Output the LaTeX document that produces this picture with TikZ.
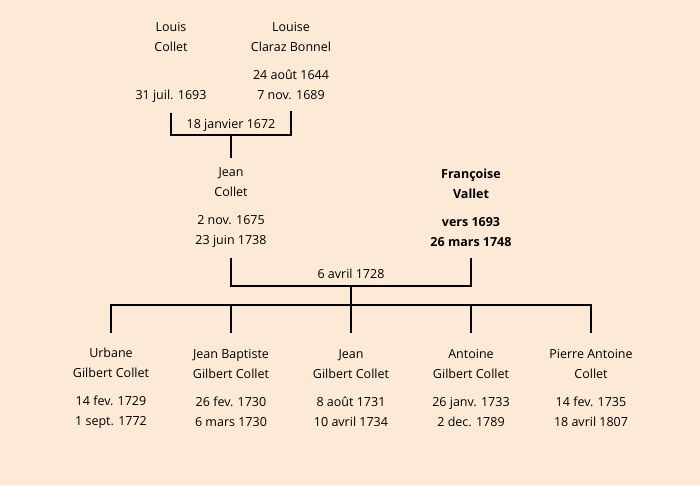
\documentclass[tikz,border=0pt]{standalone}
\usepackage{fontspec}
\setmainfont{Open Sans}
\usetikzlibrary{calc}
\definecolor{fond}{RGB}{252,234,215}

\begin{document}
\begin{tikzpicture}[x=1pt,y=-1pt,
    pers/.style={align=center,font=\fontsize{12.5}{20}\selectfont,minimum height=100pt,inner sep=0pt},
    mariage/.style={font=\fontsize{12.5}{14}\selectfont},
    lien/.style={line width=2pt}]
    \fill[fond](0,0)rectangle(700,485);
    % grands-parents
    \node[pers](louis) at (171,62.5){Louis\\Collet\\[8pt]\strut\\31 juil. 1693};
    \node[pers](louise) at (291,61){Louise\\Claraz Bonnel\\[8pt]24 ao\^ut 1644\\7 nov. 1689};
    \coordinate(m1) at (231,135);
    \node[mariage](d1) at (231,125){18 janvier 1672};
    \draw[lien](louis.south)|-(m1)-|(louise.south);
    % parents
    \node[pers](jean) at (231,208){Jean\\Collet\\[8pt]2 nov. 1675\\23 juin 1738};
    \node[pers,font=\fontsize{12.5}{20}\selectfont\bfseries](francoise) at (471,208){Fran\c{c}oise\\Vallet\\[8pt]vers 1693\\26 mars 1748};
    \draw[lien](m1)--(jean.north);
    \coordinate(m2) at (351,286);
    \node[mariage](d2) at (351,274){6 avril 1728};
    \draw[lien](jean.south)|-(m2)-|(francoise.south);
    % enfants
    \foreach \i/\x/\t in {1/111/{Urbane\\Gilbert Collet\\[8pt]14 fev. 1729\\1 sept. 1772},
        2/231/{Jean Baptiste\\Gilbert Collet\\[8pt]26 fev. 1730\\6 mars 1730},
        3/351/{Jean\\Gilbert Collet\\[8pt]8 ao\^ut 1731\\10 avril 1734},
        4/471/{Antoine\\Gilbert Collet\\[8pt]26 janv. 1733\\2 dec. 1789},
        5/591/{Pierre Antoine\\Collet\\[8pt]14 fev. 1735\\18 avril 1807}}
      \node[pers,minimum height=110pt](e\i) at (\x,388){\t};
    \coordinate(f) at (351,305);
    \draw[lien](m2)--(f);
    \draw[lien](e1.north)|-(f)-|(e5.north);
    \foreach \i in {2,3,4}
      \draw[lien](e\i.north)--(e\i.north|-f);
\end{tikzpicture}
\end{document}
